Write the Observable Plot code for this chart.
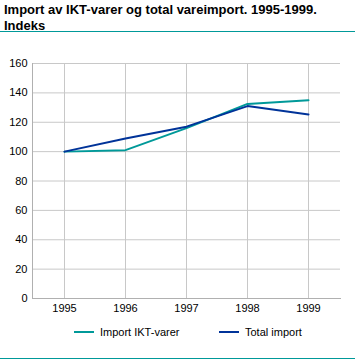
<!DOCTYPE html>
<html><head><meta charset="utf-8">
<script src="https://cdn.jsdelivr.net/npm/d3@7"></script>
<script src="https://cdn.jsdelivr.net/npm/@observablehq/plot@0.6"></script>
<style>
body{margin:0;background:#fff;font-family:"Liberation Sans",Arial,sans-serif;}
#wrap{position:relative;width:355px;height:361px;overflow:hidden;}
#title{position:absolute;left:4px;top:2px;font-size:13px;font-weight:bold;line-height:16px;color:#000;width:350px;}
#rule1{position:absolute;left:0;top:31px;width:355px;height:1px;background:#009999;}
#rule2{position:absolute;left:0;top:358px;width:355px;height:1px;background:#009999;}
#chart{position:absolute;left:0;top:45px;}
.leg{position:absolute;top:326px;font-size:11px;color:#000;display:flex;align-items:center;}
.sw{display:inline-block;width:20px;height:2px;margin-right:6px;}
</style></head><body>
<div id="wrap">
<div id="title">Import av IKT-varer og total vareimport. 1995-1999.<br>Indeks</div>
<div id="rule1"></div>
<div id="chart"></div>
<div class="leg" style="left:74px"><span class="sw" style="background:#009999"></span>Import IKT-varer</div>
<div class="leg" style="left:219px"><span class="sw" style="background:#003399"></span>Total import</div>
<div id="rule2"></div>
</div>
<script>
const years = [1995, 1996, 1997, 1998, 1999];
const iktValues = [100, 101, 116, 132.5, 135];
const totalValues = [100, 109, 117, 131, 125.3];
const seriesNames = ["Import IKT-varer", "Total import"];
const seriesColors = ["#009999", "#003399"];
const yTicks = [0, 20, 40, 60, 80, 100, 120, 140, 160];

const data = [];
years.forEach((y, i) => {
  data.push({year: y, value: iktValues[i], series: seriesNames[0]});
  data.push({year: y, value: totalValues[i], series: seriesNames[1]});
});

const chart = Plot.plot({
  width: 355,
  height: 283,
  marginTop: 18,
  marginBottom: 30,
  marginLeft: 32,
  marginRight: 15,
  style: {fontFamily: "'Liberation Sans', Arial, sans-serif", fontSize: "11px", color: "#000"},
  x: {type: "point", domain: years, padding: 0.5, label: null, tickSize: 0, tickPadding: 6, tickFormat: d => String(d)},
  y: {domain: [0, 160], ticks: yTicks, label: null, tickSize: 0, tickPadding: 5},
  color: {domain: seriesNames, range: seriesColors},
  marks: [
    Plot.gridY(yTicks, {stroke: "#c8c8c8", strokeOpacity: 1, strokeWidth: 1}),
    Plot.gridX(years, {stroke: "#c8c8c8", strokeOpacity: 1, strokeWidth: 1}),
    Plot.frame({anchor: "left", stroke: "#b0b0b0"}),
    Plot.frame({anchor: "bottom", stroke: "#b0b0b0"}),
    Plot.line(data, {x: "year", y: "value", z: "series", stroke: "series", strokeWidth: 2})
  ]
});
document.getElementById("chart").appendChild(chart);
</script>
</body></html>
